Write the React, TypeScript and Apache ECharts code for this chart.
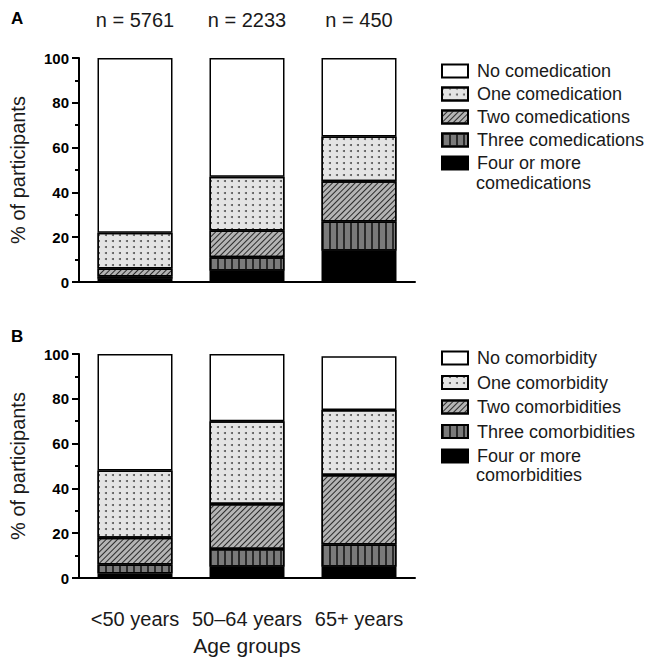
import React, { useEffect, useRef } from "react";
import * as echarts from "echarts";

const categories = ["<50 years", "50–64 years", "65+ years"];
const nLabels = ["n = 5761", "n = 2233", "n = 450"];

const medNames = [
  "No comedication",
  "One comedication",
  "Two comedications",
  "Three comedications",
  "Four or more comedications",
];
const morbNames = [
  "No comorbidity",
  "One comorbidity",
  "Two comorbidities",
  "Three comorbidities",
  "Four or more comorbidities",
];

// values in % of participants, per age group
const medNo = [78, 53, 35];
const medOne = [16, 24, 20];
const medTwo = [3.5, 12, 18];
const medThree = [1, 6, 13];
const medFour = [1.5, 5, 14];

const morbNo = [52, 30, 24];
const morbOne = [30, 37, 29];
const morbTwo = [12, 20, 31];
const morbThree = [4, 8, 10];
const morbFour = [2, 5, 5];

const yTicks = [0, 20, 40, 60, 80, 100];

const FONT = "'Liberation Sans', Arial, Helvetica, sans-serif";

const styles = [
  { color: "#ffffff", decal: null },
  {
    color: "#e4e4e4",
    decal: {
      symbol: "circle",
      symbolSize: 1,
      color: "#555555",
      dashArrayX: [1.3, 4.7],
      dashArrayY: [1.3, 3.7],
    },
  },
  {
    color: "#b4b4b4",
    decal: {
      symbol: "rect",
      symbolSize: 1,
      color: "#2a2a2a",
      dashArrayX: [1, 0],
      dashArrayY: [1, 2.2],
      rotation: -Math.PI / 4,
    },
  },
  {
    color: "#7a7a7a",
    decal: {
      symbol: "rect",
      symbolSize: 1,
      color: "#2a2a2a",
      dashArrayX: [1.3, 4.9],
      dashArrayY: [1, 0],
    },
  },
  { color: "#000000", decal: null },
];

function makeSeries(names: string[], values: number[][], idx: number, stack: string) {
  // bottom to top order: four, three, two, one, no
  const order = [4, 3, 2, 1, 0];
  return order.map((k) => ({
    name: names[k],
    type: "bar",
    stack,
    xAxisIndex: idx,
    yAxisIndex: idx,
    barWidth: 75,
    data: values[k],
    itemStyle: {
      color: styles[k].color,
      borderColor: "#000",
      borderWidth: 1.5,
      ...(styles[k].decal ? { decal: styles[k].decal } : {}),
    },
    emphasis: { disabled: true },
  }));
}

function yAxis(gridIndex: number) {
  return {
    type: "value",
    gridIndex,
    min: yTicks[0],
    max: yTicks[yTicks.length - 1],
    interval: 20,
    name: "% of participants",
    nameLocation: "middle",
    nameGap: 51,
    nameTextStyle: { fontFamily: FONT, fontSize: 20, color: "#1a1a1a" },
    axisLine: { show: true, lineStyle: { color: "#000", width: 2 } },
    axisTick: { show: true, length: 7, lineStyle: { color: "#000", width: 2 } },
    minorTick: { show: true, splitNumber: 2, length: 4, lineStyle: { color: "#000", width: 2 } },
    splitLine: { show: false },
    minorSplitLine: { show: false },
    axisLabel: {
      fontFamily: FONT,
      fontSize: 15,
      fontWeight: "bold",
      color: "#000",
      margin: 10,
    },
  };
}

function legend(names: string[], top: number, gap: number) {
  return {
    orient: "vertical",
    left: 436,
    top,
    itemWidth: 26,
    itemHeight: 13,
    itemGap: gap,
    icon: "rect",
    selectedMode: false,
    data: names,
    formatter: (n: string) => (n.startsWith("Four or more") ? "Four or more" : n),
    textStyle: { fontFamily: FONT, fontSize: 18, lineHeight: 18, color: "#1a1a1a", padding: [0, 0, 0, 4] },
  };
}

export default function App() {
  const ref = useRef<HTMLDivElement>(null);
  useEffect(() => {
    if (!ref.current) return;
    const chart = echarts.init(ref.current, undefined, { renderer: "svg" });
    const medVals = [medNo, medOne, medTwo, medThree, medFour];
    const morbVals = [morbNo, morbOne, morbTwo, morbThree, morbFour];
    chart.setOption({
      animation: false,
      backgroundColor: "#fff",
      grid: [
        { left: 77, top: 58, width: 338, height: 224 },
        { left: 77, top: 354, width: 338, height: 224 },
      ],
      xAxis: [
        {
          type: "category",
          gridIndex: 0,
          data: categories,
          axisLine: { lineStyle: { color: "#000", width: 2 } },
          axisTick: { alignWithLabel: true, length: 7, lineStyle: { color: "#000", width: 2 } },
          axisLabel: { show: false },
        },
        {
          type: "category",
          gridIndex: 1,
          data: categories,
          name: "Age groups",
          nameLocation: "middle",
          nameGap: 57,
          nameTextStyle: { fontFamily: FONT, fontSize: 21, color: "#1a1a1a" },
          axisLine: { lineStyle: { color: "#000", width: 2 } },
          axisTick: { alignWithLabel: true, length: 7, lineStyle: { color: "#000", width: 2 } },
          axisLabel: {
            fontFamily: FONT,
            fontSize: 20,
            color: "#1a1a1a",
            margin: 31,
            interval: 0,
            hideOverlap: false,
          },
        },
        {
          type: "category",
          gridIndex: 0,
          position: "top",
          data: nLabels,
          axisLine: { show: false },
          axisTick: { show: false },
          axisLabel: { fontFamily: FONT, fontSize: 20, color: "#1a1a1a", margin: 28, interval: 0 },
        },
      ],
      yAxis: [yAxis(0), yAxis(1)],
      legend: [legend(medNames, 57, 5), legend(morbNames, 344, 6.5)],
      graphic: [
        { type: "text", left: 11, top: 10, style: { text: "A", font: `bold 17px ${FONT}`, fill: "#000" } },
        { type: "text", left: 11, top: 328, style: { text: "B", font: `bold 17px ${FONT}`, fill: "#000" } },
        { type: "text", left: 476, top: 174, style: { text: "comedications", font: `18px ${FONT}`, fill: "#1a1a1a" } },
        { type: "text", left: 476, top: 466, style: { text: "comorbidities", font: `18px ${FONT}`, fill: "#1a1a1a" } },
      ],
      series: [...makeSeries(medNames, medVals, 0, "a"), ...makeSeries(morbNames, morbVals, 1, "b")],
    });
    return () => chart.dispose();
  }, []);
  return (
    <div
      ref={ref}
      style={{ position: "fixed", left: 0, top: 0, width: 649, height: 663, background: "#fff" }}
    />
  );
}
